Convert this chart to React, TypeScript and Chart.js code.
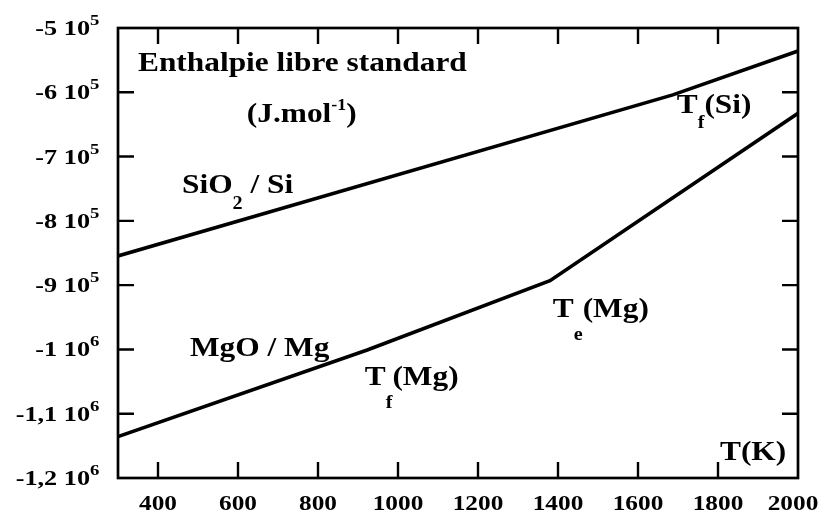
import React, { useEffect, useRef } from "react";
import { Chart, registerables } from "chart.js";

Chart.register(...registerables);

// ---- data ----
const siTemps = [300, 1687, 2000];
const siValues = [-854600, -604000, -535800];
const mgTemps = [300, 923, 1380, 2000];
const mgValues = [-1135600, -1000800, -893000, -632700];

const xTicks = [400, 600, 800, 1000, 1200, 1400, 1600, 1800, 2000];
const yTickValues = [-500000, -600000, -700000, -800000, -900000, -1000000, -1100000, -1200000];
const yTickMantissa = ["-5", "-6", "-7", "-8", "-9", "-1", "-1,1", "-1,2"];
const yTickExponent = ["5", "5", "5", "5", "5", "6", "6", "6"];

type Seg = { text: string; size: number; dy: number };
const FONT = '"Liberation Serif", "Times New Roman", serif';
const SX = 1.12;

function drawRich(ctx: CanvasRenderingContext2D, segs: Seg[], x: number, y: number, align: "left" | "center" | "right", sx: number) {
  const widths = segs.map((s) => {
    ctx.font = `bold ${s.size}px ${FONT}`;
    return ctx.measureText(s.text).width * sx;
  });
  const total = widths.reduce((a, b) => a + b, 0);
  let cx = align === "left" ? x : align === "center" ? x - total / 2 : x - total;
  segs.forEach((s, i) => {
    ctx.save();
    ctx.font = `bold ${s.size}px ${FONT}`;
    ctx.textAlign = "left";
    ctx.textBaseline = "alphabetic";
    ctx.fillStyle = "#000";
    ctx.translate(cx, y + s.dy);
    ctx.scale(sx, 1);
    ctx.fillText(s.text, 0, 0);
    ctx.restore();
    cx += widths[i];
  });
}

const annotations: { x: number; y: number; segs: Seg[] }[] = [
  { x: 350, y: -566900, segs: [{ text: "Enthalpie libre standard", size: 28, dy: 0 }] },
  {
    x: 622,
    y: -646200,
    segs: [
      { text: "(J.mol", size: 28, dy: 0 },
      { text: "-1", size: 16, dy: -12 },
      { text: ")", size: 28, dy: 0 },
    ],
  },
  {
    x: 460,
    y: -756600,
    segs: [
      { text: "SiO", size: 28, dy: 0 },
      { text: "2", size: 18, dy: 16 },
      { text: " / Si", size: 28, dy: 0 },
    ],
  },
  { x: 480, y: -1010100, segs: [{ text: "MgO / Mg", size: 28, dy: 0 }] },
  {
    x: 917,
    y: -1055200,
    segs: [
      { text: "T", size: 28, dy: 0 },
      { text: "f", size: 18, dy: 23 },
      { text: "(Mg)", size: 28, dy: 0 },
    ],
  },
  {
    x: 1387,
    y: -949500,
    segs: [
      { text: "T", size: 28, dy: 0 },
      { text: "e", size: 18, dy: 23 },
      { text: "(Mg)", size: 28, dy: 0 },
    ],
  },
  {
    x: 1697,
    y: -632200,
    segs: [
      { text: "T", size: 28, dy: 0 },
      { text: "f", size: 18, dy: 15 },
      { text: "(Si)", size: 28, dy: 0 },
    ],
  },
  { x: 1805, y: -1171800, segs: [{ text: "T(K)", size: 28, dy: 0 }] },
];

const framePlugin = {
  id: "frame",
  afterDraw(chart: any) {
    const ctx: CanvasRenderingContext2D = chart.ctx;
    const { left, right, top, bottom } = chart.chartArea;
    const xs = chart.scales.x;
    const ys = chart.scales.y;
    ctx.save();
    ctx.strokeStyle = "#000";
    ctx.lineWidth = 2.7;
    ctx.strokeRect(left, top, right - left, bottom - top);
    ctx.lineWidth = 2.4;
    const tl = 16;
    ctx.beginPath();
    xTicks.forEach((v) => {
      if (v >= xs.max) return;
      const px = xs.getPixelForValue(v);
      ctx.moveTo(px, bottom);
      ctx.lineTo(px, bottom - tl);
      ctx.moveTo(px, top);
      ctx.lineTo(px, top + tl);
    });
    yTickValues.forEach((v) => {
      if (v >= ys.max || v <= ys.min) return;
      const py = ys.getPixelForValue(v);
      ctx.moveTo(left, py);
      ctx.lineTo(left + tl, py);
      ctx.moveTo(right, py);
      ctx.lineTo(right - tl, py);
    });
    ctx.stroke();

    // x tick labels
    xTicks.forEach((v) => {
      const px = Math.min(xs.getPixelForValue(v), 793);
      drawRich(ctx, [{ text: String(v), size: 22, dy: 0 }], px, bottom + 32, "center", 1.15);
    });
    // y tick labels
    yTickValues.forEach((v, i) => {
      const py = ys.getPixelForValue(v);
      const main = yTickMantissa[i] + " 10";
      ctx.font = `bold 21px ${FONT}`;
      const w = ctx.measureText(main).width * 1.25;
      const x0 = left - 28 - w;
      drawRich(
        ctx,
        [
          { text: main, size: 21, dy: 0 },
          { text: yTickExponent[i], size: 15, dy: -10 },
        ],
        x0,
        py + 7,
        "left",
        1.25
      );
    });
    // annotations
    annotations.forEach((a) => {
      drawRich(ctx, a.segs, xs.getPixelForValue(a.x), ys.getPixelForValue(a.y), "left", SX);
    });
    ctx.restore();
  },
};

export default function App() {
  const ref = useRef<HTMLCanvasElement | null>(null);
  useEffect(() => {
    if (!ref.current) return;
    const chart = new Chart(ref.current, {
      type: "line",
      data: {
        datasets: [
          {
            label: "SiO2 / Si",
            data: siTemps.map((t, i) => ({ x: t, y: siValues[i] })),
            borderColor: "#000",
            borderWidth: 3.6,
            pointRadius: 0,
            tension: 0,
          },
          {
            label: "MgO / Mg",
            data: mgTemps.map((t, i) => ({ x: t, y: mgValues[i] })),
            borderColor: "#000",
            borderWidth: 3.6,
            pointRadius: 0,
            tension: 0,
          },
        ],
      },
      options: {
        animation: false,
        responsive: true,
        maintainAspectRatio: false,
        layout: { padding: { left: 118, top: 28, right: 26, bottom: 34 } },
        plugins: { legend: { display: false }, tooltip: { enabled: false } },
        scales: {
          x: { type: "linear", min: 300, max: 2000, display: false },
          y: { type: "linear", min: -1200000, max: -500000, display: false },
        },
      },
      plugins: [framePlugin],
    });
    return () => chart.destroy();
  }, []);
  return (
    <div style={{ position: "absolute", left: 0, top: 0, width: 824, height: 512, background: "#fff" }}>
      <canvas ref={ref} />
    </div>
  );
}
